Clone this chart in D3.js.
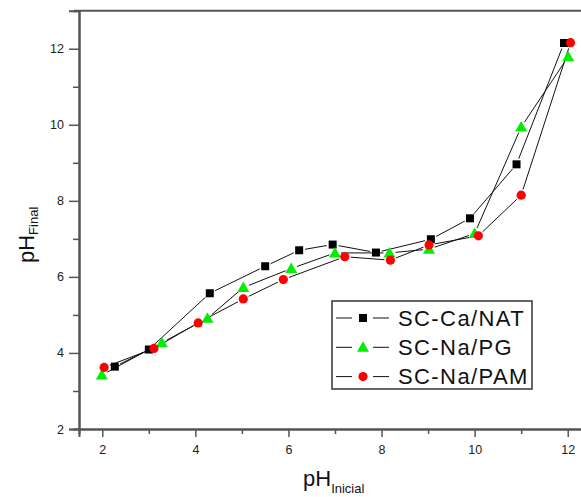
<!DOCTYPE html>
<html><head><meta charset="utf-8">
<script src="https://cdn.jsdelivr.net/npm/d3@7"></script>
<style>body{margin:0;background:#fff;}svg{display:block;font-family:Arial,"Liberation Sans",sans-serif;}</style>
</head><body><svg id="c" width="581" height="497"></svg>
<script>
const seriesNames = ["SC-Ca/NAT", "SC-Na/PG", "SC-Na/PAM"];
const caNatX = [2.27, 3.0, 4.31, 5.5, 6.23, 6.95, 7.88, 9.06, 9.9, 10.9, 11.92];
const caNatY = [3.64, 4.09, 5.57, 6.28, 6.7, 6.85, 6.64, 6.99, 7.54, 8.96, 12.15];
const naPgX = [1.99, 3.28, 4.26, 5.03, 6.06, 7.0, 8.17, 9.02, 10.0, 11.0, 12.01];
const naPgY = [3.42, 4.27, 4.91, 5.72, 6.22, 6.63, 6.63, 6.73, 7.14, 9.94, 11.79];
const naPamX = [2.04, 3.11, 4.06, 5.03, 5.89, 7.21, 8.19, 9.02, 10.08, 11.0, 12.06];
const naPamY = [3.62, 4.12, 4.79, 5.42, 5.93, 6.53, 6.44, 6.84, 7.08, 8.15, 12.16];
const xMajor = [2, 4, 6, 8, 10, 12];
const xMinor = [3, 5, 7, 9, 11];
const yMajor = [2, 4, 6, 8, 10, 12];
const yMinor = [3, 5, 7, 9, 11];

const svg = d3.select("#c");
const x = d3.scaleLinear().domain([1.5, 12.5]).range([79, 591]);
const y = d3.scaleLinear().domain([2, 13]).range([429, 10.7]);
const axisColor = "#555";

// frame
svg.append("line").attr("x1", x(1.5) - 5).attr("x2", x(12.5)).attr("y1", y(13)).attr("y2", y(13)).attr("stroke", axisColor).attr("stroke-width", 2);
svg.append("line").attr("x1", x(12.5)).attr("x2", x(12.5)).attr("y1", y(13)).attr("y2", y(2)).attr("stroke", axisColor).attr("stroke-width", 2);

// axes
const xAxis = svg.append("g").attr("transform", `translate(0,${y(2)})`)
  .call(d3.axisBottom(x).tickValues(xMajor).tickSize(8).tickPadding(8).tickFormat(d3.format("d")));
const xAxisMinor = svg.append("g").attr("transform", `translate(0,${y(2)})`)
  .call(d3.axisBottom(x).tickValues(xMinor).tickSize(5).tickFormat(""));
const yAxis = svg.append("g").attr("transform", `translate(${x(1.5)},0)`)
  .call(d3.axisLeft(y).tickValues(yMajor).tickSize(10).tickPadding(5).tickFormat(d3.format("d")));
const yAxisMinor = svg.append("g").attr("transform", `translate(${x(1.5)},0)`)
  .call(d3.axisLeft(y).tickValues(yMinor).tickSize(6).tickFormat(""));
[xAxis, xAxisMinor, yAxis, yAxisMinor].forEach(g => {
  g.select(".domain").attr("stroke", axisColor).attr("stroke-width", 2);
  g.selectAll(".tick line").attr("stroke", axisColor).attr("stroke-width", 1.5);
  g.selectAll("text").attr("fill", "#222").style("font-size", "12.5px").style("font-family", "Arial, 'Liberation Sans', sans-serif");
});

// titles
const xt = svg.append("text").attr("x", 303).attr("y", 486).attr("fill", "#111")
  .style("font-size", "22px");
xt.append("tspan").text("pH");
xt.append("tspan").attr("dy", 7).style("font-size", "13px").text("Inicial");
const yt = svg.append("text").attr("transform", "translate(34,263) rotate(-90)").attr("fill", "#111")
  .style("font-size", "22px");
yt.append("tspan").text("pH");
yt.append("tspan").attr("dy", 4).style("font-size", "13px").text("Final");

// series
const data = [
  {name: seriesNames[0], xs: caNatX, ys: caNatY, sym: "square", color: "#000"},
  {name: seriesNames[1], xs: naPgX, ys: naPgY, sym: "triangle", color: "#00ee00"},
  {name: seriesNames[2], xs: naPamX, ys: naPamY, sym: "circle", color: "#ff0000"}
];
function marker(g, sym, color, cx, cy) {
  if (sym === "square") {
    g.append("rect").attr("x", cx - 4).attr("y", cy - 4).attr("width", 8).attr("height", 8).attr("fill", color);
  } else if (sym === "triangle") {
    g.append("path").attr("d", `M${cx},${cy - 6} L${cx + 6},${cy + 4.5} L${cx - 6},${cy + 4.5} Z`).attr("fill", color);
  } else {
    g.append("circle").attr("cx", cx).attr("cy", cy).attr("r", 4.6).attr("fill", color);
  }
}
const gap = 6;
data.forEach(s => {
  const g = svg.append("g");
  const pts = s.xs.map((v, i) => [x(v), y(s.ys[i])]);
  for (let i = 0; i < pts.length - 1; i++) {
    const [x1, y1] = pts[i], [x2, y2] = pts[i + 1];
    const L = Math.hypot(x2 - x1, y2 - y1);
    if (L <= 2 * gap) continue;
    const ux = (x2 - x1) / L, uy = (y2 - y1) / L;
    g.append("line").attr("x1", x1 + ux * gap).attr("y1", y1 + uy * gap)
      .attr("x2", x2 - ux * gap).attr("y2", y2 - uy * gap)
      .attr("stroke", "#111").attr("stroke-width", 1);
  }
});
data.forEach(s => {
  const g = svg.append("g");
  s.xs.forEach((v, i) => marker(g, s.sym, s.color, x(v), y(s.ys[i])));
});

// legend
const lg = svg.append("g");
lg.append("rect").attr("x", 332).attr("y", 301).attr("width", 200).attr("height", 88)
  .attr("fill", "#fff").attr("stroke", "#333").attr("stroke-width", 1.5);
data.forEach((s, i) => {
  const cy = 318 + i * 29.3;
  lg.append("line").attr("x1", 336).attr("x2", 352).attr("y1", cy).attr("y2", cy).attr("stroke", "#111").attr("stroke-width", 1);
  lg.append("line").attr("x1", 373).attr("x2", 389).attr("y1", cy).attr("y2", cy).attr("stroke", "#111").attr("stroke-width", 1);
  marker(lg, s.sym, s.color, 363, cy);
  lg.append("text").attr("x", 398).attr("y", cy + 7.5).attr("fill", "#111")
    .style("font-size", "22px").style("letter-spacing", "1.4px").text(s.name);
});
</script></body></html>
